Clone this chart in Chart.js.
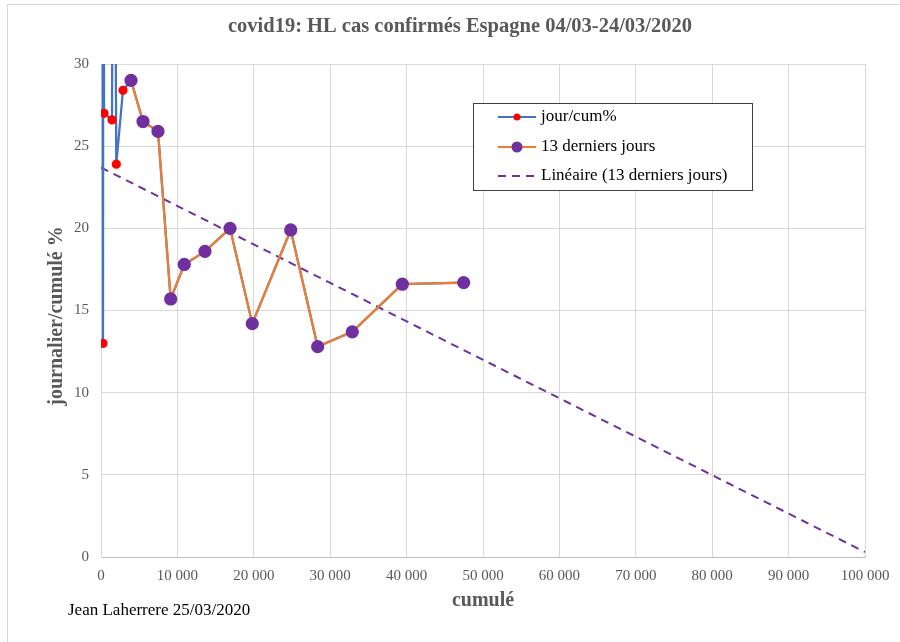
<!DOCTYPE html>
<html>
<head>
<meta charset="utf-8">
<script src="https://cdn.jsdelivr.net/npm/chart.js@4/dist/chart.umd.min.js"></script>
<style>
  body { margin: 0; background: #fff; }
  canvas { display: block; }
</style>
</head>
<body>
<canvas id="hl" width="900" height="642"></canvas>
<script>
// HL Espagne: jour/cum% en fonction du cumul, 04/03 -> 24/03/2020
const cumul = [150, 260, 330, 400, 1440, 1640, 2000, 2880,
  3930, 5500, 7460, 9120, 10900, 13610, 16890, 19800, 24830, 28360, 32890, 39440, 47470];
const jourCum = [80, 13.0, 60, 27.0, 26.6, 60, 23.9, 28.4,
  29.0, 26.5, 25.9, 15.7, 17.8, 18.6, 20.0, 14.2, 19.9, 12.8, 13.7, 16.6, 16.7];
const nbDerniers = 13;

// droite de tendance (Excel, linéaire sur les 13 derniers jours)
const trendX = [0, 100000];
const trendY = [23.7, 0.3];

const xTicks = [0, 10000, 20000, 30000, 40000, 50000, 60000, 70000, 80000, 90000, 100000];
const xTickLabels = ['0', '10 000', '20 000', '30 000', '40 000', '50 000', '60 000', '70 000', '80 000', '90 000', '100 000'];
const yTicks = [0, 5, 10, 15, 20, 25, 30];

const titre = 'covid19: HL cas confirmés Espagne 04/03-24/03/2020';
const auteur = 'Jean Laherrere 25/03/2020';

const serif = '"Liberation Serif", "Times New Roman", serif';
const gris = '#595959';

const pts = (xs, ys) => xs.map((x, i) => ({ x: x, y: ys[i] }));
const start = cumul.length - nbDerniers;

const datasets = [
  {
    label: 'jour/cum%',
    data: pts(cumul, jourCum),
    borderColor: '#4472C4',
    borderWidth: 2.25,
    pointBackgroundColor: '#FF0000',
    pointBorderColor: '#FF0000',
    pointRadius: 3.5,
    order: 2
  },
  {
    label: '13 derniers jours',
    data: pts(cumul.slice(start), jourCum.slice(start)),
    borderColor: '#ED7D31',
    borderWidth: 2.25,
    pointBackgroundColor: '#7030A0',
    pointBorderColor: '#7030A0',
    pointRadius: 5.5,
    order: 1
  },
  {
    label: 'Linéaire (13 derniers jours)',
    data: pts(trendX, trendY),
    borderColor: '#7030A0',
    borderWidth: 2,
    borderDash: [8, 6],
    pointRadius: 0,
    order: 3
  }
];

const decor = {
  id: 'decor',
  beforeDraw(chart) {
    const c = chart.ctx;
    c.save();
    c.fillStyle = '#fff';
    c.fillRect(0, 0, chart.width, chart.height);
    c.strokeStyle = '#d9d9d9';
    c.lineWidth = 1;
    c.strokeRect(7.5, 4.5, 1000, 1000);
    c.restore();
  },
  afterDraw(chart) {
    const c = chart.ctx;
    c.save();
    // titre
    c.fillStyle = gris;
    c.textAlign = 'center';
    c.textBaseline = 'middle';
    c.font = 'bold 20.5px ' + serif;
    c.fillText(titre, 460, 27);
    // titres des axes
    c.font = 'bold 20px ' + serif;
    c.fillText('cumulé', 483, 601);
    c.translate(57, 316);
    c.rotate(-Math.PI / 2);
    c.fillText('journalier/cumulé %', 0, 0);
    c.setTransform(1, 0, 0, 1, 0, 0);
    // auteur
    c.fillStyle = '#000';
    c.textAlign = 'left';
    c.font = '17px ' + serif;
    c.fillText(auteur, 68, 611);

    // légende
    c.fillStyle = '#fff';
    c.fillRect(473.5, 103.5, 279, 87);
    c.strokeStyle = '#404040';
    c.lineWidth = 1;
    c.strokeRect(473.5, 103.5, 279, 87);
    const rows = [117, 147, 176];
    chart.data.datasets.forEach((ds, i) => {
      const y = rows[i];
      c.strokeStyle = ds.borderColor;
      c.lineWidth = 2;
      c.setLineDash(ds.borderDash || []);
      c.beginPath();
      c.moveTo(498, y);
      c.lineTo(536, y);
      c.stroke();
      c.setLineDash([]);
      if (ds.pointRadius > 0) {
        c.fillStyle = ds.pointBackgroundColor;
        c.beginPath();
        c.arc(517, y, ds.pointRadius, 0, Math.PI * 2);
        c.fill();
      }
      c.fillStyle = '#000';
      c.font = '17px ' + serif;
      c.textBaseline = 'middle';
      c.fillText(ds.label, 541, y);
    });
    c.restore();
  }
};

new Chart(document.getElementById('hl'), {
  type: 'line',
  data: { datasets: datasets },
  plugins: [decor],
  options: {
    responsive: false,
    animation: false,
    layout: { padding: { left: 0, top: 64, right: 35, bottom: 0 } },
    plugins: {
      legend: { display: false },
      title: { display: false },
      tooltip: { enabled: false }
    },
    elements: { line: { tension: 0 } },
    scales: {
      x: {
        type: 'linear',
        min: 0,
        max: 100000,
        afterBuildTicks: (s) => { s.ticks = xTicks.map(v => ({ value: v })); },
        afterFit: (s) => { s.height = 85; },
        grid: { color: '#d9d9d9', drawTicks: false },
        border: { color: '#bfbfbf' },
        ticks: {
          padding: 10,
          color: gris,
          font: { family: serif, size: 15 },
          maxRotation: 0,
          autoSkip: false,
          callback: (v) => xTickLabels[xTicks.indexOf(v)]
        }
      },
      y: {
        type: 'linear',
        min: 0,
        max: 30,
        afterBuildTicks: (s) => { s.ticks = yTicks.map(v => ({ value: v })); },
        afterFit: (s) => { s.width = 101; },
        grid: { color: '#d9d9d9', drawTicks: false },
        border: { color: '#d9d9d9' },
        ticks: {
          padding: 12,
          color: gris,
          font: { family: serif, size: 15 }
        }
      }
    }
  }
});
</script>
</body>
</html>
